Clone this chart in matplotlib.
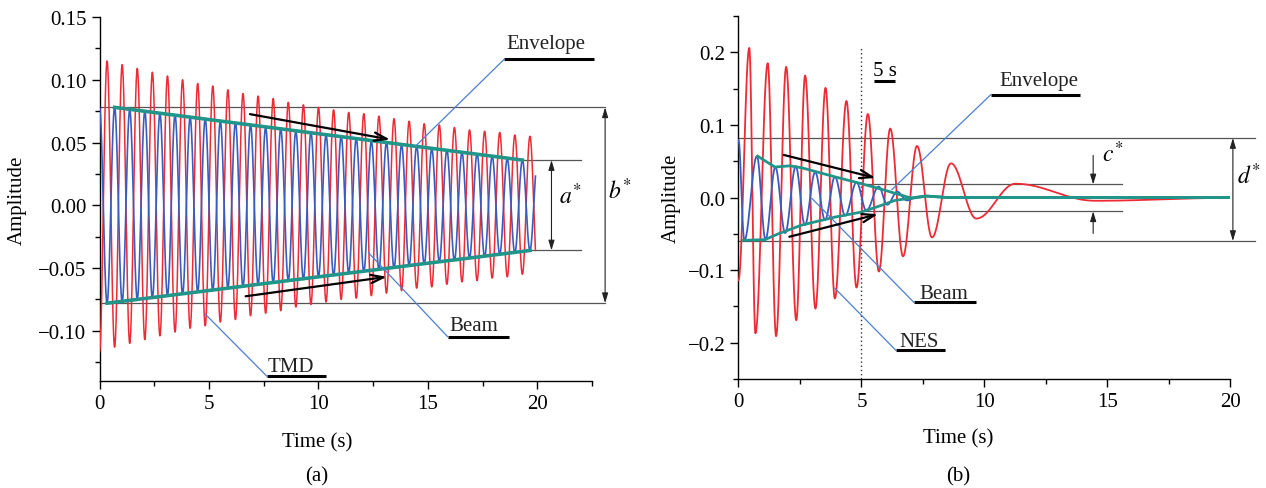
import numpy as np
import matplotlib.pyplot as plt
from matplotlib.ticker import MultipleLocator, FuncFormatter

plt.rcParams['font.family'] = ['Liberation Serif', 'DejaVu Serif']
plt.rcParams['mathtext.fontset'] = 'stix'

RED = '#ee2a35'
BLUE = '#3a5cbf'
TEAL = '#22958a'
LEADER = '#4a80d2'
GREY = '#555555'

# ---------------- (a) beam + TMD ----------------
period_a = 0.69      # s, same for both traces
end_a = 19.92
# TMD: troughs at whole periods, peaks at half periods
tmd_troughs = [-0.117, -0.113, -0.110, -0.107, -0.104, -0.101, -0.098, -0.096, -0.093, -0.091,
               -0.088, -0.086, -0.084, -0.081, -0.079, -0.077, -0.075, -0.074, -0.072, -0.070,
               -0.068, -0.066, -0.065, -0.063, -0.061, -0.060, -0.058, -0.057, -0.055, -0.054]
tmd_peaks = [0.115, 0.112, 0.109, 0.106, 0.103, 0.100, 0.097, 0.095, 0.092, 0.089,
             0.087, 0.085, 0.082, 0.080, 0.078, 0.076, 0.074, 0.073, 0.071, 0.069,
             0.067, 0.065, 0.064, 0.062, 0.060, 0.059, 0.058, 0.056, 0.055]
# beam: peaks at whole periods, troughs at half periods
beam_a_peaks = [0.078, 0.078, 0.076, 0.075, 0.073, 0.072, 0.070, 0.069, 0.067, 0.066,
                0.064, 0.062, 0.061, 0.059, 0.058, 0.056, 0.055, 0.053, 0.051, 0.050,
                0.048, 0.047, 0.045, 0.044, 0.042, 0.041, 0.039, 0.037, 0.036, 0.035]
beam_a_troughs = [-0.078, -0.077, -0.075, -0.074, -0.072, -0.071, -0.069, -0.068, -0.066, -0.065,
                  -0.063, -0.062, -0.060, -0.059, -0.057, -0.056, -0.054, -0.053, -0.051, -0.050,
                  -0.048, -0.047, -0.045, -0.044, -0.042, -0.041, -0.039, -0.038, -0.036]
env_a_up_t, env_a_up_v = [0.69, 19.32], [0.078, 0.036]
env_a_lo_t, env_a_lo_v = [0.345, 19.67], [-0.078, -0.036]

# ---------------- (b) beam + NES ----------------
nes_t = [0, 0.44, 0.69, 1.19, 1.53, 1.94, 2.35, 2.71, 3.13, 3.54, 3.92, 4.39, 4.80, 5.26,
         5.71, 6.17, 6.69, 7.26, 7.87, 8.64, 9.67, 11.26, 14.5, 20.0]
nes_v = [-0.114, 0.206, -0.187, 0.185, -0.191, 0.180, -0.169, 0.168, -0.153, 0.151, -0.139,
         0.133, -0.124, 0.115, -0.102, 0.095, -0.081, 0.071, -0.055, 0.047, -0.029, 0.019,
         -0.0045, -0.0005]
beam_b_t = [0, 0.24, 0.75, 1.10, 1.50, 1.90, 2.33, 2.70, 3.12, 3.52, 3.92, 4.34, 4.80, 5.20,
            5.70, 6.05, 6.45, 6.85, 7.25, 7.65, 8.5, 20.0]
beam_b_v = [0.079, -0.059, 0.057, -0.058, 0.042, -0.049, 0.043, -0.038, 0.035, -0.031, 0.0285,
            -0.025, 0.021, -0.018, 0.015, -0.010, 0.008, -0.004, 0.001, 0.002, 0.0, 0.0]
env_b_up_t = [0.78, 1.48, 2.09, 2.57, 3.92, 5.0, 5.75, 7.04, 7.65, 8.5, 20.0]
env_b_up_v = [0.057, 0.042, 0.0436, 0.041, 0.0285, 0.019, 0.012, -0.001, 0.002, 0.0, 0.0]
env_b_lo_t = [0.2, 1.08, 1.62, 2.57, 3.92, 5.0, 5.75, 6.36, 6.97, 7.65, 8.5, 20.0]
env_b_lo_v = [-0.059, -0.058, -0.050, -0.038, -0.027, -0.020, -0.0115, -0.004, -0.001, 0.002, 0.0, 0.0]


def interleave(first, second, period):
    # first list sits on whole periods, second on half periods
    t, v = [], []
    for k in range(len(first)):
        t.append(k * period)
        v.append(first[k])
        if k < len(second):
            t.append((k + 0.5) * period)
            v.append(second[k])
    return t, v


def through_extrema(t_ext, v_ext, t_end=None, n=30):
    # half-cosine arcs joining consecutive turning points
    ts, vs = [], []
    for i in range(len(t_ext) - 1):
        s = np.linspace(0, 1, n, endpoint=False)
        ts.append(t_ext[i] + s * (t_ext[i + 1] - t_ext[i]))
        vs.append(v_ext[i] + (v_ext[i + 1] - v_ext[i]) * (1 - np.cos(np.pi * s)) / 2)
    ts.append([t_ext[-1]])
    vs.append([v_ext[-1]])
    t = np.concatenate(ts)
    v = np.concatenate(vs)
    if t_end is not None:
        keep = t <= t_end
        t, v = t[keep], v[keep]
    return t, v


def minus_fmt(decimals):
    return FuncFormatter(lambda y, pos: f'{y:.{decimals}f}'.replace('-', '\u2212')
                         if abs(y) > 1e-12 else f'{0:.{decimals}f}')


def style_axes(ax):
    for s in ['top', 'right']:
        ax.spines[s].set_visible(False)
    for s in ['left', 'bottom']:
        ax.spines[s].set_linewidth(1.0)
    ax.tick_params(which='major', direction='out', length=6, width=1.0, labelsize=15)
    ax.tick_params(which='minor', direction='out', length=3.5, width=1.0)


def hline(ax, y, x0, x1):
    ax.plot([x0, x1], [y, y], color=GREY, lw=0.9, clip_on=False, zorder=1)


def label(ax, text, xc, yb, x0, x1, yu, lead_from):
    ax.text(xc, yb, text, ha='center', va='baseline', fontsize=15, color='#222222')
    ax.plot([x0, x1], [yu, yu], color='black', lw=2.2, clip_on=False, solid_capstyle='butt')
    ax.plot([lead_from[0], x0], [lead_from[1], yu], color=LEADER, lw=0.9, clip_on=False, zorder=6)


def big_arrow(ax, p0, p1):
    ax.annotate('', xy=p1, xytext=p0,
                arrowprops=dict(arrowstyle='->,head_length=0.9,head_width=0.3', color='black', lw=1.6),
                zorder=7)


def dim_arrow(ax, x, y0, y1, style='<|-|>'):
    ax.annotate('', xy=(x, y1), xytext=(x, y0), annotation_clip=False,
                arrowprops=dict(arrowstyle=style + ',head_length=0.6,head_width=0.18',
                                color='#222222', lw=0.8, shrinkA=0, shrinkB=0))


fig = plt.figure(figsize=(12.66, 4.89), dpi=100)
ax_a = fig.add_axes([0.0786, 0.2188, 0.389, 0.7444])
ax_b = fig.add_axes([0.5833, 0.2229, 0.3886, 0.7423])

# ---- panel (a) ----
ax = ax_a
style_axes(ax)
t, v = interleave(tmd_troughs, tmd_peaks, period_a)
tt, vv = through_extrema(t, v, end_a)
ax.plot(tt, vv, color=RED, lw=1.1, zorder=3)
t, v = interleave(beam_a_peaks, beam_a_troughs, period_a)
tt, vv = through_extrema(t, v, end_a)
ax.plot(tt, vv, color=BLUE, lw=1.2, zorder=4)
ax.plot(env_a_up_t, env_a_up_v, color=TEAL, lw=2.6, zorder=5)
ax.plot(env_a_lo_t, env_a_lo_v, color=TEAL, lw=2.6, zorder=5)

hline(ax, 0.078, 0, 23.1)
hline(ax, -0.078, 0, 23.1)
hline(ax, 0.036, 19.3, 22.0)
hline(ax, -0.036, 19.6, 22.0)
dim_arrow(ax, 20.65, 0.036, -0.036)
dim_arrow(ax, 23.1, 0.078, -0.078)
ax.text(21.5, 0.0075, r'$a^{*}$', fontsize=17, ha='center', va='center')
ax.text(23.8, 0.0115, r'$b^{*}$', fontsize=17, ha='center', va='center')

big_arrow(ax, (6.75, 0.073), (13.4, 0.052))
big_arrow(ax, (6.55, -0.0728), (13.25, -0.0567))

label(ax, 'Envelope', 20.4, 0.125, 18.5, 22.6, 0.1165, (14.4, 0.0465))
label(ax, 'Beam', 17.1, -0.099, 15.9, 18.7, -0.1046, (12.3, -0.038))
label(ax, 'TMD', 8.73, -0.1324, 7.66, 10.37, -0.1364, (4.83, -0.0867))

ax.set_xlim(0, 22.5)
ax.set_ylim(-0.14, 0.15)
ax.set_xticks([0, 5, 10, 15, 20])
ax.xaxis.set_minor_locator(MultipleLocator(2.5))
ax.set_yticks([-0.10, -0.05, 0.0, 0.05, 0.10, 0.15])
ax.yaxis.set_minor_locator(MultipleLocator(0.025))
ax.yaxis.set_major_formatter(minus_fmt(2))
ax.set_xlabel('Time (s)', fontsize=15)
ax.set_ylabel('Amplitude', fontsize=15)
ax.xaxis.set_label_coords(0.4416, -0.14)
ax.yaxis.set_label_coords(-0.148, 0.5)

# ---- panel (b) ----
ax = ax_b
style_axes(ax)
tt, vv = through_extrema(nes_t, nes_v)
ax.plot(tt, vv, color=RED, lw=1.3, zorder=3)
tt, vv = through_extrema(beam_b_t, beam_b_v)
ax.plot(tt, vv, color=BLUE, lw=1.3, zorder=4)
ax.plot(env_b_up_t, env_b_up_v, color=TEAL, lw=2.0, zorder=5)
ax.plot(env_b_lo_t, env_b_lo_v, color=TEAL, lw=2.0, zorder=5)

hline(ax, 0.082, 0, 21.0)
hline(ax, -0.060, 0, 21.0)
hline(ax, 0.018, 5.0, 15.6)
hline(ax, -0.019, 5.0, 15.6)
ax.plot([5, 5], [-0.25, 0.208], color='#333333', lw=1.0, ls=(0, (1, 2)), zorder=2)
dim_arrow(ax, 20.1, 0.082, -0.060)
dim_arrow(ax, 14.42, 0.058, 0.018, style='-|>')
dim_arrow(ax, 14.42, -0.0495, -0.019, style='-|>')
ax.text(15.2, 0.0605, r'$c^{*}$', fontsize=17, ha='center', va='center')
ax.text(20.75, 0.031, r'$d^{*}$', fontsize=17, ha='center', va='center')

big_arrow(ax, (1.73, 0.0596), (5.68, 0.026))
big_arrow(ax, (1.96, -0.055), (5.78, -0.022))

ax.text(5.95, 0.169, '5 s', ha='center', va='baseline', fontsize=15)
ax.plot([5.52, 6.36], [0.161, 0.161], color='black', lw=2.2, solid_capstyle='butt')

label(ax, 'Envelope', 12.2, 0.155, 10.26, 13.9, 0.1417, (6.24, 0.011))
label(ax, 'Beam', 8.35, -0.138, 7.13, 9.65, -0.1444, (2.99, -0.0014))
label(ax, 'NES', 7.35, -0.204, 6.4, 8.4, -0.2105, (3.92, -0.125))

ax.set_xlim(0, 20)
ax.set_ylim(-0.25, 0.25)
ax.set_xticks([0, 5, 10, 15, 20])
ax.xaxis.set_minor_locator(MultipleLocator(2.5))
ax.set_yticks([-0.2, -0.1, 0.0, 0.1, 0.2])
ax.yaxis.set_minor_locator(MultipleLocator(0.05))
ax.yaxis.set_major_formatter(minus_fmt(1))
ax.set_xlabel('Time (s)', fontsize=15)
ax.set_ylabel('Amplitude', fontsize=15)
ax.xaxis.set_label_coords(0.446, -0.136)
ax.yaxis.set_label_coords(-0.118, 0.5)

fig.text(317 / 1266, 1 - 477 / 489, '(a)', ha='center', va='center', fontsize=15)
fig.text(958 / 1266, 1 - 477 / 489, '(b)', ha='center', va='center', fontsize=15)

fig.savefig('out.png', dpi=100)
